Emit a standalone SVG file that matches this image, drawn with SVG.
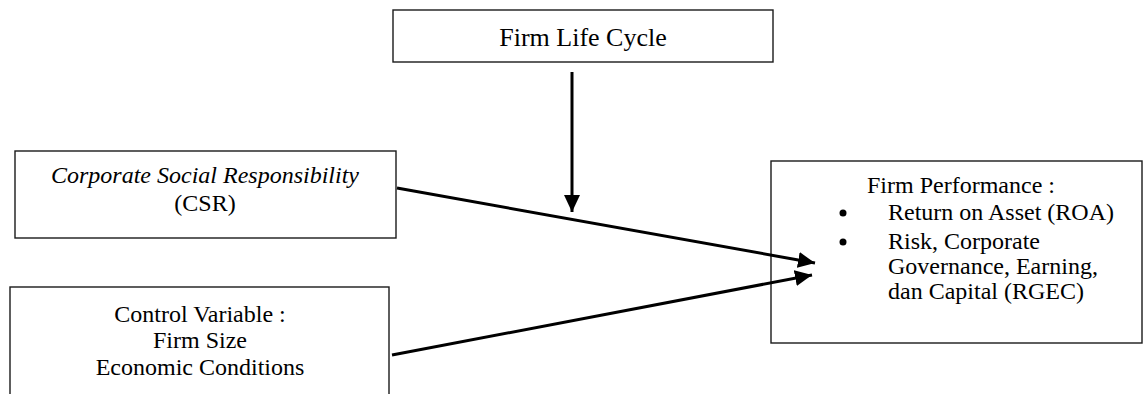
<svg xmlns="http://www.w3.org/2000/svg" width="1143" height="394" viewBox="0 0 1143 394">
<style>
.box{fill:#fff;stroke:#1a1a1a;stroke-width:1.4}
.t{font-family:"Liberation Serif","Times New Roman",serif;font-size:24px;fill:#000}
.c{text-anchor:middle}
.conn{stroke:#000;stroke-width:3;fill:none}
</style>
<defs>
<marker id="ah" markerUnits="userSpaceOnUse" markerWidth="18" markerHeight="18" viewBox="0 0 18 18" refX="17" refY="9" orient="auto">
<path d="M0,1 L17,9 L0,17 Z" fill="#000"/>
</marker>
</defs>
<rect width="1143" height="394" fill="#fff"/>
<g id="flc">
<rect class="box" x="393" y="10" width="380" height="52"/>
<text class="t c" x="583" y="46" style="font-size:26px">Firm Life Cycle</text>
</g>
<g id="csr">
<rect class="box" x="15" y="151" width="381" height="87"/>
<text class="t c" x="205" y="183" font-style="italic">Corporate Social Responsibility</text>
<text class="t c" x="205" y="211">(CSR)</text>
</g>
<g id="control">
<rect class="box" x="10" y="287" width="379" height="120"/>
<text class="t c" x="200" y="322">Control Variable :</text>
<text class="t c" x="200" y="348">Firm Size</text>
<text class="t c" x="200" y="375">Economic Conditions</text>
</g>
<g id="performance">
<rect class="box" x="771" y="161" width="371" height="182"/>
<text class="t" x="867" y="193">Firm Performance :</text>
<circle cx="843" cy="213" r="3.5" fill="#000"/>
<text class="t" x="888" y="220">Return on Asset (ROA)</text>
<circle cx="843" cy="242" r="3.5" fill="#000"/>
<text class="t" x="888" y="249">Risk, Corporate</text>
<text class="t" x="888" y="274">Governance, Earning,</text>
<text class="t" x="888" y="299">dan Capital (RGEC)</text>
</g>
<g id="connectors">
<line class="conn" x1="572" y1="72" x2="572" y2="212" marker-end="url(#ah)"/>
<line class="conn" x1="397" y1="188" x2="815" y2="263" marker-end="url(#ah)"/>
<line class="conn" x1="392" y1="355" x2="812" y2="275" marker-end="url(#ah)"/>
</g>
</svg>
